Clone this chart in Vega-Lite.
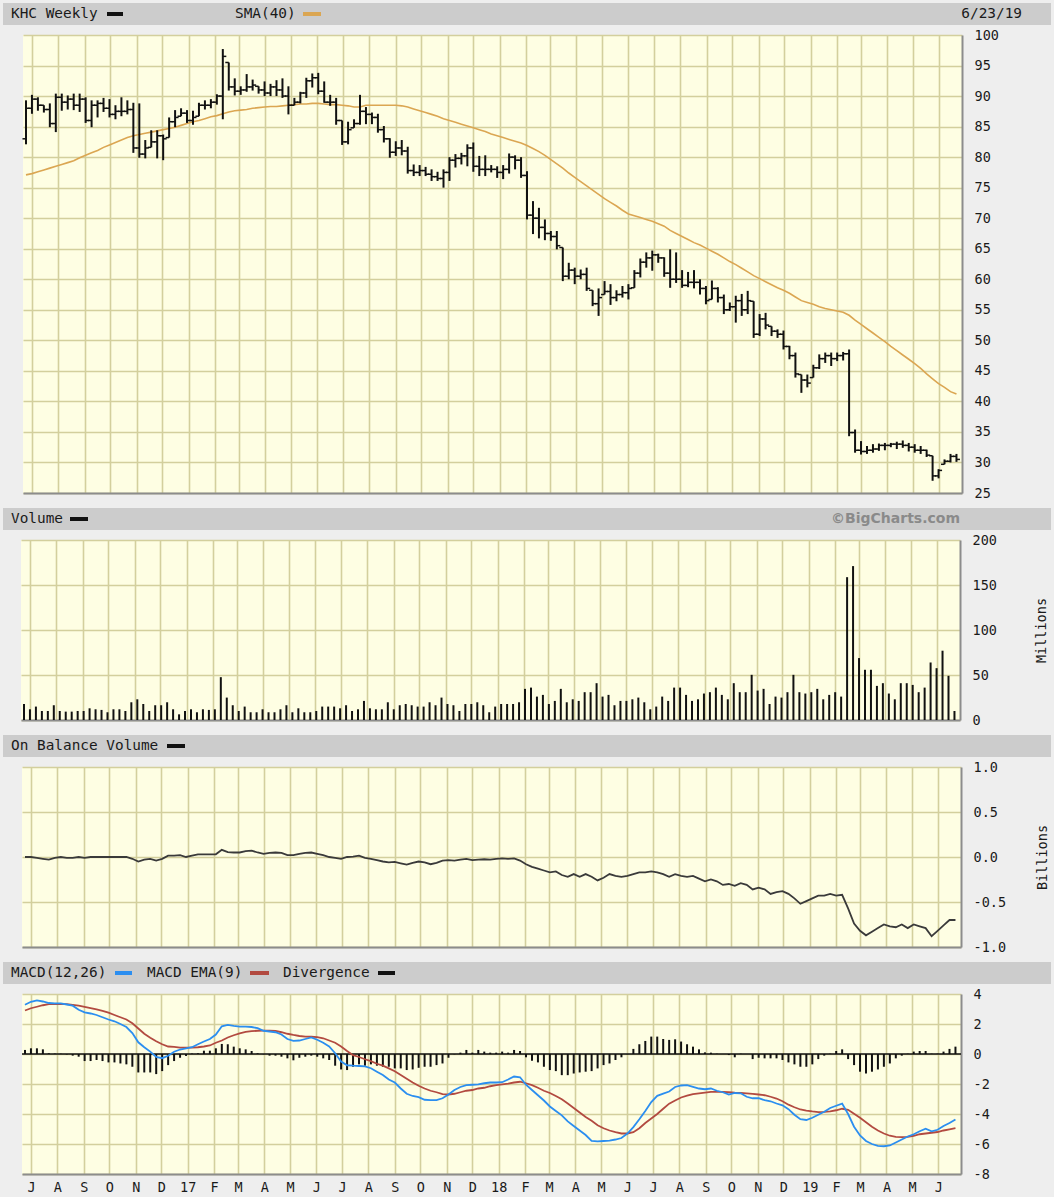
{
  "$schema": "https://vega.github.io/schema/vega-lite/v6.json",
  "background": "#eeeeee",
  "padding": {"left": 3, "top": 3, "right": 3, "bottom": 3},
  "config": {
    "view": {"stroke": null},
    "axis": {"labelFont": "DejaVu Sans Mono", "labelFontSize": 13.5, "labelColor": "#1a1a1a", "titleFont": "DejaVu Sans Mono", "titleFontSize": 13.5, "titleFontWeight": "normal", "titleColor": "#1a1a1a", "gridColor": "#d3cf9d", "gridWidth": 1.6, "gridOpacity": 1, "ticks": false, "domainColor": "#8c8c8c", "domainWidth": 2, "labelOverlap": false},
    "text": {"font": "DejaVu Sans Mono"}
  },
  "datasets": {
    "w": [
      {"date":"2016-06-24","open":83,"high":89.3,"low":82.1,"close":88,"sma":77.1,"volume":17.8,"obv":0,"macd":3.28,"signal":2.9,"hist":0.27},
      {"date":"2016-07-01","open":88,"high":90.2,"low":87.1,"close":89.5,"sma":77.3,"volume":11.9,"obv":0,"macd":3.48,"signal":3.05,"hist":0.38},
      {"date":"2016-07-08","open":89.5,"high":89.8,"low":87.6,"close":88.5,"sma":77.6,"volume":14.9,"obv":-0.01,"macd":3.58,"signal":3.15,"hist":0.38},
      {"date":"2016-07-15","open":88.5,"high":88.5,"low":87.3,"close":87.8,"sma":77.9,"volume":10,"obv":-0.02,"macd":3.5,"signal":3.25,"hist":0.31},
      {"date":"2016-07-22","open":87.8,"high":88.8,"low":84.9,"close":85.5,"sma":78.2,"volume":10,"obv":-0.03,"macd":3.4,"signal":3.33,"hist":0.05},
      {"date":"2016-07-29","open":85.5,"high":90.4,"low":84.1,"close":89.8,"sma":78.5,"volume":16.4,"obv":-0.01,"macd":3.37,"signal":3.33,"hist":0.03},
      {"date":"2016-08-05","open":89.8,"high":90.4,"low":87.6,"close":89,"sma":78.8,"volume":10,"obv":0,"macd":3.37,"signal":3.33,"hist":0.02},
      {"date":"2016-08-12","open":89,"high":90.1,"low":87.8,"close":89.5,"sma":79.1,"volume":9.3,"obv":-0.01,"macd":3.3,"signal":3.33,"hist":-0.03},
      {"date":"2016-08-19","open":89.5,"high":90.4,"low":87.7,"close":88.5,"sma":79.4,"volume":9.3,"obv":-0.01,"macd":3.22,"signal":3.28,"hist":-0.11},
      {"date":"2016-08-26","open":88.5,"high":90.4,"low":87.4,"close":89.5,"sma":79.9,"volume":10,"obv":0,"macd":2.95,"signal":3.22,"hist":-0.18},
      {"date":"2016-09-02","open":89.5,"high":89.8,"low":85.6,"close":86,"sma":80.3,"volume":10,"obv":-0.01,"macd":2.78,"signal":3.14,"hist":-0.47},
      {"date":"2016-09-09","open":86,"high":89.3,"low":84.9,"close":88.5,"sma":80.7,"volume":13,"obv":0,"macd":2.7,"signal":3.06,"hist":-0.47},
      {"date":"2016-09-16","open":88.5,"high":89.3,"low":86.5,"close":88.8,"sma":81.1,"volume":11.9,"obv":0,"macd":2.6,"signal":2.98,"hist":-0.4},
      {"date":"2016-09-23","open":88.8,"high":89.7,"low":87.4,"close":88,"sma":81.6,"volume":11.2,"obv":0,"macd":2.45,"signal":2.88,"hist":-0.47},
      {"date":"2016-09-30","open":88,"high":89.5,"low":86.5,"close":87,"sma":82,"volume":8.6,"obv":0,"macd":2.3,"signal":2.76,"hist":-0.56},
      {"date":"2016-10-07","open":87,"high":88.5,"low":86.2,"close":87.5,"sma":82.4,"volume":11.9,"obv":0,"macd":2.18,"signal":2.6,"hist":-0.56},
      {"date":"2016-10-14","open":87.5,"high":89.8,"low":86.7,"close":87.5,"sma":82.8,"volume":11.9,"obv":0,"macd":2,"signal":2.45,"hist":-0.63},
      {"date":"2016-10-21","open":87.5,"high":89.3,"low":87,"close":87.8,"sma":83.2,"volume":10,"obv":0,"macd":1.8,"signal":2.3,"hist":-0.69},
      {"date":"2016-10-28","open":87.8,"high":88.9,"low":80.7,"close":81.5,"sma":83.5,"volume":19.7,"obv":-0.02,"macd":1.4,"signal":2.05,"hist":-0.85},
      {"date":"2016-11-04","open":81.5,"high":88.8,"low":79.9,"close":80.5,"sma":83.7,"volume":23,"obv":-0.05,"macd":0.78,"signal":1.7,"hist":-1.23},
      {"date":"2016-11-11","open":80.5,"high":82.8,"low":79.8,"close":81.5,"sma":83.9,"volume":17.8,"obv":-0.03,"macd":0.45,"signal":1.35,"hist":-1.23},
      {"date":"2016-11-18","open":81.6,"high":84.4,"low":81.6,"close":82.5,"sma":84.1,"volume":10,"obv":-0.02,"macd":0.16,"signal":1.09,"hist":-1.23},
      {"date":"2016-11-25","open":82.5,"high":84.4,"low":79.8,"close":83.5,"sma":84.3,"volume":16.4,"obv":-0.04,"macd":-0.2,"signal":0.85,"hist":-1.34},
      {"date":"2016-12-02","open":83.5,"high":83.7,"low":79.5,"close":83,"sma":84.5,"volume":16.4,"obv":-0.02,"macd":-0.28,"signal":0.65,"hist":-1.14},
      {"date":"2016-12-09","open":83.2,"high":86.5,"low":83.2,"close":85.8,"sma":84.7,"volume":19.7,"obv":0.015,"macd":-0.12,"signal":0.5,"hist":-0.74},
      {"date":"2016-12-16","open":85.8,"high":87.7,"low":84.9,"close":86.5,"sma":84.9,"volume":11.9,"obv":0.015,"macd":0.15,"signal":0.47,"hist":-0.47},
      {"date":"2016-12-23","open":86.7,"high":88,"low":86.7,"close":87.2,"sma":85.2,"volume":6.3,"obv":0.02,"macd":0.3,"signal":0.43,"hist":-0.25},
      {"date":"2016-12-30","open":87.2,"high":87.7,"low":85.6,"close":86,"sma":85.5,"volume":10,"obv":0,"macd":0.37,"signal":0.42,"hist":-0.13},
      {"date":"2017-01-06","open":86,"high":87.6,"low":85.3,"close":86.5,"sma":85.8,"volume":11.9,"obv":0.015,"macd":0.45,"signal":0.42,"hist":0.03},
      {"date":"2017-01-13","open":86.7,"high":88.9,"low":86.7,"close":88.5,"sma":86,"volume":8.6,"obv":0.03,"macd":0.65,"signal":0.45,"hist":0.05},
      {"date":"2017-01-20","open":88.5,"high":89.3,"low":87.8,"close":88.5,"sma":86.3,"volume":11.9,"obv":0.03,"macd":0.83,"signal":0.5,"hist":0.22},
      {"date":"2017-01-27","open":88.5,"high":89.5,"low":88,"close":89,"sma":86.6,"volume":11.2,"obv":0.03,"macd":1,"signal":0.57,"hist":0.22},
      {"date":"2017-02-03","open":89,"high":90.3,"low":88.6,"close":90,"sma":86.8,"volume":11.9,"obv":0.03,"macd":1.3,"signal":0.75,"hist":0.38},
      {"date":"2017-02-10","open":90,"high":97.7,"low":86.2,"close":96.5,"sma":87.1,"volume":47.6,"obv":0.08,"macd":1.85,"signal":0.9,"hist":0.67},
      {"date":"2017-02-17","open":95.5,"high":95.5,"low":90.9,"close":91.5,"sma":87.4,"volume":24.9,"obv":0.055,"macd":1.94,"signal":1.1,"hist":0.65},
      {"date":"2017-02-24","open":91.5,"high":92.9,"low":90.1,"close":90.8,"sma":87.6,"volume":16.4,"obv":0.05,"macd":1.88,"signal":1.25,"hist":0.49},
      {"date":"2017-03-03","open":90.8,"high":91.6,"low":90.2,"close":91,"sma":87.7,"volume":10,"obv":0.05,"macd":1.83,"signal":1.38,"hist":0.38},
      {"date":"2017-03-10","open":91,"high":93.6,"low":90.7,"close":91.5,"sma":87.8,"volume":14.9,"obv":0.065,"macd":1.83,"signal":1.47,"hist":0.31},
      {"date":"2017-03-17","open":91.5,"high":92.7,"low":90.9,"close":91.8,"sma":88,"volume":8.6,"obv":0.07,"macd":1.8,"signal":1.52,"hist":0.2},
      {"date":"2017-03-24","open":91.6,"high":91.6,"low":90.4,"close":91,"sma":88.1,"volume":8.6,"obv":0.05,"macd":1.72,"signal":1.55,"hist":0.05},
      {"date":"2017-03-31","open":91,"high":92.4,"low":90,"close":90.5,"sma":88.2,"volume":11.9,"obv":0.035,"macd":1.55,"signal":1.56,"hist":-0.02},
      {"date":"2017-04-07","open":90.5,"high":92,"low":90,"close":91.5,"sma":88.3,"volume":8.6,"obv":0.045,"macd":1.5,"signal":1.56,"hist":-0.11},
      {"date":"2017-04-14","open":91.5,"high":92.6,"low":90,"close":91,"sma":88.3,"volume":8.6,"obv":0.05,"macd":1.45,"signal":1.54,"hist":-0.11},
      {"date":"2017-04-21","open":91,"high":92.9,"low":89.7,"close":90,"sma":88.4,"volume":11.9,"obv":0.045,"macd":1.3,"signal":1.45,"hist":-0.18},
      {"date":"2017-04-28","open":90,"high":91.6,"low":87,"close":88.5,"sma":88.5,"volume":16.4,"obv":0.02,"macd":1,"signal":1.35,"hist":-0.29},
      {"date":"2017-05-05","open":88.5,"high":89.7,"low":88.5,"close":89,"sma":88.6,"volume":8.6,"obv":0.02,"macd":0.88,"signal":1.27,"hist":-0.42},
      {"date":"2017-05-12","open":89,"high":90.7,"low":88.8,"close":90.5,"sma":88.7,"volume":13,"obv":0.035,"macd":0.9,"signal":1.2,"hist":-0.25},
      {"date":"2017-05-19","open":90.5,"high":93,"low":89.7,"close":92.5,"sma":88.7,"volume":8.6,"obv":0.045,"macd":1,"signal":1.16,"hist":-0.18},
      {"date":"2017-05-26","open":92.5,"high":93.7,"low":91.4,"close":93,"sma":88.8,"volume":8.6,"obv":0.05,"macd":1.1,"signal":1.15,"hist":-0.11},
      {"date":"2017-06-02","open":93,"high":93.8,"low":90.3,"close":90.8,"sma":88.8,"volume":10,"obv":0.035,"macd":0.95,"signal":1.13,"hist":-0.18},
      {"date":"2017-06-09","open":90.8,"high":92.4,"low":88.9,"close":89,"sma":88.7,"volume":14.9,"obv":0.02,"macd":0.75,"signal":1.05,"hist":-0.29},
      {"date":"2017-06-16","open":89,"high":90.2,"low":88.4,"close":89,"sma":88.6,"volume":14.9,"obv":0,"macd":0.5,"signal":0.9,"hist":-0.4},
      {"date":"2017-06-23","open":89,"high":89.7,"low":85.3,"close":86,"sma":88.6,"volume":14.9,"obv":-0.01,"macd":0.05,"signal":0.75,"hist":-0.78},
      {"date":"2017-06-30","open":86,"high":86,"low":82,"close":82.5,"sma":88.5,"volume":13,"obv":-0.02,"macd":-0.5,"signal":0.5,"hist":-1.03},
      {"date":"2017-07-07","open":82.5,"high":85.8,"low":82.1,"close":84.5,"sma":88.4,"volume":16.4,"obv":0,"macd":-0.75,"signal":0.2,"hist":-1.07},
      {"date":"2017-07-14","open":84.8,"high":86.2,"low":84.8,"close":85.5,"sma":88.2,"volume":10,"obv":0.005,"macd":-0.78,"signal":-0.08,"hist":-0.85},
      {"date":"2017-07-21","open":85.5,"high":90.2,"low":85.3,"close":87.5,"sma":88.2,"volume":11.9,"obv":0.015,"macd":-0.8,"signal":-0.2,"hist":-0.69},
      {"date":"2017-07-28","open":87.5,"high":88.2,"low":85.4,"close":87,"sma":88.5,"volume":21.2,"obv":-0.01,"macd":-0.82,"signal":-0.35,"hist":-0.78},
      {"date":"2017-08-04","open":87,"high":87.3,"low":85.4,"close":86.5,"sma":88.5,"volume":13,"obv":-0.02,"macd":-0.95,"signal":-0.48,"hist":-0.69},
      {"date":"2017-08-11","open":86.5,"high":87.1,"low":84,"close":84.5,"sma":88.5,"volume":11.9,"obv":-0.035,"macd":-1.18,"signal":-0.65,"hist":-0.78},
      {"date":"2017-08-18","open":84.5,"high":85.1,"low":82.4,"close":83,"sma":88.5,"volume":11.9,"obv":-0.05,"macd":-1.4,"signal":-0.78,"hist":-0.85},
      {"date":"2017-08-25","open":83,"high":83.1,"low":79.9,"close":80.8,"sma":88.5,"volume":19.7,"obv":-0.06,"macd":-1.7,"signal":-0.96,"hist":-0.85},
      {"date":"2017-09-01","open":80.8,"high":82.6,"low":80.2,"close":81.5,"sma":88.5,"volume":11.9,"obv":-0.055,"macd":-1.9,"signal":-1.15,"hist":-0.96},
      {"date":"2017-09-08","open":81.5,"high":82.8,"low":80.3,"close":81,"sma":88.4,"volume":16.4,"obv":-0.07,"macd":-2.3,"signal":-1.4,"hist":-0.96},
      {"date":"2017-09-15","open":81,"high":81.7,"low":77.3,"close":77.8,"sma":88.2,"volume":17.8,"obv":-0.085,"macd":-2.65,"signal":-1.65,"hist":-1.07},
      {"date":"2017-09-22","open":77.8,"high":78.8,"low":76.9,"close":77.5,"sma":87.9,"volume":16.4,"obv":-0.065,"macd":-2.8,"signal":-1.9,"hist":-1.03},
      {"date":"2017-09-29","open":77.5,"high":78.7,"low":76.9,"close":77.8,"sma":87.6,"volume":14.9,"obv":-0.05,"macd":-2.88,"signal":-2.12,"hist":-0.92},
      {"date":"2017-10-06","open":77.8,"high":78.4,"low":76.9,"close":77.2,"sma":87.3,"volume":14.9,"obv":-0.06,"macd":-3.05,"signal":-2.3,"hist":-0.85},
      {"date":"2017-10-13","open":77.2,"high":78,"low":76.1,"close":76.8,"sma":87,"volume":19.7,"obv":-0.08,"macd":-3.08,"signal":-2.45,"hist":-0.85},
      {"date":"2017-10-20","open":76.8,"high":77.6,"low":76.1,"close":76.5,"sma":86.7,"volume":16.4,"obv":-0.065,"macd":-3.08,"signal":-2.55,"hist":-0.74},
      {"date":"2017-10-27","open":76.5,"high":78,"low":75,"close":77.5,"sma":86.3,"volume":24.9,"obv":-0.04,"macd":-2.95,"signal":-2.68,"hist":-0.63},
      {"date":"2017-11-03","open":77.5,"high":80,"low":76.1,"close":79.5,"sma":86,"volume":17.8,"obv":-0.035,"macd":-2.7,"signal":-2.7,"hist":-0.25},
      {"date":"2017-11-10","open":79.5,"high":80.5,"low":78.3,"close":79.8,"sma":85.7,"volume":16.4,"obv":-0.04,"macd":-2.4,"signal":-2.65,"hist":-0.02},
      {"date":"2017-11-17","open":79.8,"high":80.7,"low":78.8,"close":80.2,"sma":85.4,"volume":10,"obv":-0.03,"macd":-2.2,"signal":-2.55,"hist":0.09},
      {"date":"2017-11-24","open":80.2,"high":82.1,"low":78.5,"close":81.5,"sma":85.1,"volume":17.8,"obv":-0.02,"macd":-2.08,"signal":-2.45,"hist":0.27},
      {"date":"2017-12-01","open":81.5,"high":82.4,"low":77.6,"close":78.5,"sma":84.8,"volume":17.8,"obv":-0.035,"macd":-2.05,"signal":-2.4,"hist":0.09},
      {"date":"2017-12-08","open":78.5,"high":80.2,"low":76.9,"close":78,"sma":84.5,"volume":19.7,"obv":-0.03,"macd":-2.03,"signal":-2.3,"hist":0.27},
      {"date":"2017-12-15","open":78,"high":80.3,"low":76.9,"close":78,"sma":84.2,"volume":16.4,"obv":-0.025,"macd":-1.95,"signal":-2.25,"hist":0.16},
      {"date":"2017-12-22","open":78,"high":78.7,"low":77.5,"close":78,"sma":83.8,"volume":8.6,"obv":-0.03,"macd":-1.9,"signal":-2.15,"hist":0.09},
      {"date":"2017-12-29","open":78,"high":78.5,"low":76.6,"close":77.5,"sma":83.5,"volume":14.9,"obv":-0.02,"macd":-1.9,"signal":-2.08,"hist":0.09},
      {"date":"2018-01-05","open":77.5,"high":78.7,"low":76.4,"close":78,"sma":83.2,"volume":17.8,"obv":-0.015,"macd":-1.88,"signal":-2.03,"hist":0.16},
      {"date":"2018-01-12","open":78,"high":80.6,"low":77.3,"close":80,"sma":82.9,"volume":17.8,"obv":-0.02,"macd":-1.7,"signal":-1.98,"hist":0.09},
      {"date":"2018-01-19","open":80,"high":80.3,"low":78,"close":79.5,"sma":82.6,"volume":17.8,"obv":-0.015,"macd":-1.5,"signal":-1.9,"hist":0.27},
      {"date":"2018-01-26","open":79.5,"high":80,"low":76.6,"close":77,"sma":82.3,"volume":19.7,"obv":-0.04,"macd":-1.55,"signal":-1.85,"hist":0.2},
      {"date":"2018-02-02","open":77,"high":77.7,"low":69.8,"close":70.5,"sma":81.9,"volume":34.6,"obv":-0.08,"macd":-2.05,"signal":-1.95,"hist":-0.22},
      {"date":"2018-02-09","open":70.5,"high":72.8,"low":67.4,"close":70,"sma":81.4,"volume":36,"obv":-0.11,"macd":-2.4,"signal":-2.08,"hist":-0.45},
      {"date":"2018-02-16","open":70,"high":71.7,"low":66.7,"close":68.5,"sma":80.9,"volume":26,"obv":-0.13,"macd":-2.75,"signal":-2.25,"hist":-0.56},
      {"date":"2018-02-23","open":68.5,"high":69.8,"low":66.4,"close":67.5,"sma":80.3,"volume":27.9,"obv":-0.15,"macd":-3.1,"signal":-2.45,"hist":-0.85},
      {"date":"2018-03-02","open":67.5,"high":67.9,"low":66.3,"close":67,"sma":79.6,"volume":17.8,"obv":-0.17,"macd":-3.5,"signal":-2.6,"hist":-1.07},
      {"date":"2018-03-09","open":67,"high":67.9,"low":64.9,"close":65.5,"sma":78.9,"volume":21.2,"obv":-0.16,"macd":-3.8,"signal":-2.8,"hist":-1.14},
      {"date":"2018-03-16","open":65.2,"high":65.2,"low":59.7,"close":60.5,"sma":78.2,"volume":34.6,"obv":-0.2,"macd":-4.09,"signal":-3.02,"hist":-1.41},
      {"date":"2018-03-23","open":60.5,"high":62.7,"low":60,"close":61.5,"sma":77.4,"volume":19.7,"obv":-0.22,"macd":-4.49,"signal":-3.3,"hist":-1.41},
      {"date":"2018-03-30","open":61.5,"high":61.9,"low":59.2,"close":60.5,"sma":76.7,"volume":23,"obv":-0.19,"macd":-4.8,"signal":-3.6,"hist":-1.3},
      {"date":"2018-04-06","open":60.5,"high":61.6,"low":60,"close":60.8,"sma":76,"volume":21.2,"obv":-0.22,"macd":-5.1,"signal":-3.9,"hist":-1.23},
      {"date":"2018-04-13","open":60.8,"high":61.9,"low":58.1,"close":58.5,"sma":75.3,"volume":30.9,"obv":-0.19,"macd":-5.4,"signal":-4.2,"hist":-1.18},
      {"date":"2018-04-20","open":58.2,"high":58.2,"low":55.6,"close":56,"sma":74.6,"volume":30.9,"obv":-0.22,"macd":-5.8,"signal":-4.45,"hist":-1.14},
      {"date":"2018-04-27","open":56,"high":58.5,"low":54,"close":57,"sma":73.9,"volume":40.9,"obv":-0.26,"macd":-5.83,"signal":-4.75,"hist":-0.96},
      {"date":"2018-05-04","open":57.5,"high":59.7,"low":57.5,"close":58,"sma":73.2,"volume":26,"obv":-0.23,"macd":-5.8,"signal":-4.95,"hist":-0.74},
      {"date":"2018-05-11","open":58,"high":59.2,"low":55.8,"close":57,"sma":72.6,"volume":27.9,"obv":-0.19,"macd":-5.77,"signal":-5.1,"hist":-0.63},
      {"date":"2018-05-18","open":57,"high":58.2,"low":56.4,"close":57.5,"sma":72,"volume":16.4,"obv":-0.21,"macd":-5.7,"signal":-5.21,"hist":-0.4},
      {"date":"2018-05-25","open":57.5,"high":58.9,"low":57,"close":57.8,"sma":71.3,"volume":21.2,"obv":-0.22,"macd":-5.6,"signal":-5.3,"hist":-0.22},
      {"date":"2018-06-01","open":57.8,"high":59.2,"low":56.7,"close":58.5,"sma":70.7,"volume":21.2,"obv":-0.21,"macd":-5.3,"signal":-5.3,"hist":-0.02},
      {"date":"2018-06-08","open":58.6,"high":61.5,"low":58.6,"close":61,"sma":70.4,"volume":23,"obv":-0.19,"macd":-4.87,"signal":-5.21,"hist":0.34},
      {"date":"2018-06-15","open":61,"high":63.4,"low":60.3,"close":62.8,"sma":70.1,"volume":24.9,"obv":-0.17,"macd":-4.35,"signal":-4.95,"hist":0.65},
      {"date":"2018-06-22","open":62.8,"high":64.4,"low":61.9,"close":63.5,"sma":69.8,"volume":19.7,"obv":-0.17,"macd":-3.8,"signal":-4.6,"hist":0.87},
      {"date":"2018-06-29","open":63.5,"high":64.7,"low":61.4,"close":64,"sma":69.5,"volume":11.9,"obv":-0.16,"macd":-3.2,"signal":-4.3,"hist":1.16},
      {"date":"2018-07-06","open":64,"high":64.2,"low":62.7,"close":63.5,"sma":69.1,"volume":14.9,"obv":-0.17,"macd":-2.79,"signal":-4,"hist":1.16},
      {"date":"2018-07-13","open":63.5,"high":63.6,"low":60.4,"close":61,"sma":68.7,"volume":26,"obv":-0.19,"macd":-2.64,"signal":-3.65,"hist":1},
      {"date":"2018-07-20","open":61,"high":64.9,"low":58.6,"close":60,"sma":68,"volume":21.2,"obv":-0.22,"macd":-2.5,"signal":-3.31,"hist":0.94},
      {"date":"2018-07-27","open":60,"high":64.4,"low":59.4,"close":60,"sma":67.5,"volume":36,"obv":-0.19,"macd":-2.2,"signal":-3.1,"hist":0.98},
      {"date":"2018-08-03","open":60,"high":61.5,"low":58.6,"close":59,"sma":67,"volume":36,"obv":-0.21,"macd":-2.1,"signal":-2.9,"hist":0.83},
      {"date":"2018-08-10","open":59,"high":61.2,"low":58.7,"close":59.5,"sma":66.5,"volume":27.9,"obv":-0.22,"macd":-2.08,"signal":-2.78,"hist":0.65},
      {"date":"2018-08-17","open":59.5,"high":61.5,"low":58.5,"close":59.5,"sma":66,"volume":21.2,"obv":-0.21,"macd":-2.19,"signal":-2.68,"hist":0.49},
      {"date":"2018-08-24","open":59.5,"high":60,"low":57.5,"close":58.5,"sma":65.6,"volume":23,"obv":-0.24,"macd":-2.3,"signal":-2.62,"hist":0.31},
      {"date":"2018-08-31","open":58.5,"high":58.9,"low":55.9,"close":56.5,"sma":65.1,"volume":29.4,"obv":-0.27,"macd":-2.35,"signal":-2.57,"hist":0.11},
      {"date":"2018-09-07","open":56.7,"high":59.8,"low":56.7,"close":58.5,"sma":64.6,"volume":30.9,"obv":-0.25,"macd":-2.3,"signal":-2.53,"hist":0.09},
      {"date":"2018-09-14","open":58.5,"high":58.7,"low":56.2,"close":57,"sma":64.1,"volume":36,"obv":-0.27,"macd":-2.45,"signal":-2.52,"hist":0.02},
      {"date":"2018-09-21","open":57,"high":57.5,"low":54.3,"close":55,"sma":63.5,"volume":27.9,"obv":-0.31,"macd":-2.55,"signal":-2.53,"hist":0},
      {"date":"2018-09-28","open":55,"high":56.2,"low":54.8,"close":55.5,"sma":62.9,"volume":23,"obv":-0.3,"macd":-2.7,"signal":-2.55,"hist":-0.07},
      {"date":"2018-10-05","open":55.5,"high":57.3,"low":52.9,"close":56.5,"sma":62.4,"volume":40.9,"obv":-0.32,"macd":-2.6,"signal":-2.58,"hist":-0.22},
      {"date":"2018-10-12","open":56.5,"high":57.6,"low":54,"close":55,"sma":61.8,"volume":30.9,"obv":-0.29,"macd":-2.62,"signal":-2.6,"hist":0.02},
      {"date":"2018-10-19","open":55,"high":58.1,"low":54.3,"close":56.5,"sma":61.2,"volume":30.9,"obv":-0.31,"macd":-2.85,"signal":-2.63,"hist":0},
      {"date":"2018-10-26","open":56.4,"high":56.4,"low":50.4,"close":51,"sma":60.6,"volume":50.2,"obv":-0.36,"macd":-2.95,"signal":-2.66,"hist":-0.34},
      {"date":"2018-11-02","open":51,"high":54.3,"low":50.7,"close":53.5,"sma":60.1,"volume":32.7,"obv":-0.34,"macd":-2.95,"signal":-2.7,"hist":-0.25},
      {"date":"2018-11-09","open":53.5,"high":54.5,"low":51.8,"close":52.5,"sma":59.6,"volume":34.6,"obv":-0.36,"macd":-3.08,"signal":-2.75,"hist":-0.29},
      {"date":"2018-11-16","open":52.3,"high":52.3,"low":50.7,"close":51.5,"sma":59.1,"volume":17.8,"obv":-0.41,"macd":-3.15,"signal":-2.85,"hist":-0.29},
      {"date":"2018-11-23","open":51.5,"high":51.8,"low":50.4,"close":51,"sma":58.6,"volume":26,"obv":-0.39,"macd":-3.3,"signal":-2.97,"hist":-0.29},
      {"date":"2018-11-30","open":51,"high":51.6,"low":48.5,"close":49,"sma":58.2,"volume":24.9,"obv":-0.38,"macd":-3.42,"signal":-3.15,"hist":-0.4},
      {"date":"2018-12-07","open":49,"high":49.1,"low":46.9,"close":47.5,"sma":57.7,"volume":30.9,"obv":-0.41,"macd":-3.68,"signal":-3.38,"hist":-0.56},
      {"date":"2018-12-14","open":47.5,"high":48,"low":43.9,"close":44.5,"sma":57.1,"volume":50.2,"obv":-0.46,"macd":-4.05,"signal":-3.55,"hist":-0.69},
      {"date":"2018-12-21","open":44.4,"high":44.4,"low":41.4,"close":43.5,"sma":56.5,"volume":30.9,"obv":-0.52,"macd":-4.35,"signal":-3.7,"hist":-0.85},
      {"date":"2018-12-28","open":43.5,"high":44.4,"low":42.3,"close":43,"sma":56.2,"volume":29.4,"obv":-0.49,"macd":-4.4,"signal":-3.77,"hist":-0.85},
      {"date":"2019-01-04","open":43.9,"high":46,"low":43.9,"close":45.5,"sma":55.9,"volume":30.9,"obv":-0.46,"macd":-4.25,"signal":-3.83,"hist":-0.69},
      {"date":"2019-01-11","open":45.5,"high":47.7,"low":45.3,"close":47,"sma":55.5,"volume":34.6,"obv":-0.43,"macd":-4.05,"signal":-3.87,"hist":-0.34},
      {"date":"2019-01-18","open":47,"high":48,"low":46.3,"close":47.5,"sma":55.2,"volume":23,"obv":-0.43,"macd":-3.85,"signal":-3.86,"hist":-0.11},
      {"date":"2019-01-25","open":47.5,"high":48,"low":45.8,"close":47,"sma":55,"volume":27.9,"obv":-0.41,"macd":-3.6,"signal":-3.82,"hist":0.02},
      {"date":"2019-02-01","open":47,"high":48,"low":46.6,"close":47.5,"sma":54.8,"volume":30.9,"obv":-0.43,"macd":-3.45,"signal":-3.75,"hist":0.2},
      {"date":"2019-02-08","open":47.5,"high":48.1,"low":46.7,"close":47.8,"sma":54.6,"volume":26,"obv":-0.42,"macd":-3.31,"signal":-3.65,"hist":0.31},
      {"date":"2019-02-15","open":47.8,"high":48.5,"low":34.3,"close":34.9,"sma":54.1,"volume":158.7,"obv":-0.57,"macd":-4,"signal":-3.72,"hist":-0.34},
      {"date":"2019-02-22","open":34.9,"high":35.4,"low":31.6,"close":32,"sma":53.3,"volume":171,"obv":-0.74,"macd":-4.85,"signal":-3.98,"hist":-0.74},
      {"date":"2019-03-01","open":32,"high":33.5,"low":31.3,"close":31.8,"sma":52.6,"volume":68.8,"obv":-0.82,"macd":-5.43,"signal":-4.25,"hist":-1.18},
      {"date":"2019-03-08","open":31.8,"high":32.7,"low":31.4,"close":32,"sma":51.9,"volume":55.8,"obv":-0.87,"macd":-5.8,"signal":-4.55,"hist":-1.3},
      {"date":"2019-03-15","open":32,"high":33,"low":31.6,"close":32.2,"sma":51.2,"volume":55.8,"obv":-0.83,"macd":-6,"signal":-4.85,"hist":-1.18},
      {"date":"2019-03-22","open":32.2,"high":33.1,"low":31.9,"close":32.8,"sma":50.5,"volume":37.9,"obv":-0.79,"macd":-6.12,"signal":-5.1,"hist":-1.03},
      {"date":"2019-03-29","open":32.8,"high":33.2,"low":32,"close":32.8,"sma":49.8,"volume":40.9,"obv":-0.75,"macd":-6.15,"signal":-5.3,"hist":-0.85},
      {"date":"2019-04-05","open":32.8,"high":33.2,"low":32.5,"close":33,"sma":49,"volume":29.4,"obv":-0.77,"macd":-6.1,"signal":-5.45,"hist":-0.63},
      {"date":"2019-04-12","open":33,"high":33.4,"low":32.2,"close":33,"sma":48.3,"volume":23,"obv":-0.78,"macd":-5.9,"signal":-5.52,"hist":-0.29},
      {"date":"2019-04-19","open":33,"high":33.6,"low":32.4,"close":32.8,"sma":47.6,"volume":40.9,"obv":-0.75,"macd":-5.7,"signal":-5.54,"hist":-0.11},
      {"date":"2019-04-26","open":32.8,"high":33.2,"low":31.8,"close":32.5,"sma":46.9,"volume":40.9,"obv":-0.79,"macd":-5.5,"signal":-5.52,"hist":0.02},
      {"date":"2019-05-03","open":32.5,"high":33,"low":31.6,"close":32,"sma":46.2,"volume":39,"obv":-0.75,"macd":-5.35,"signal":-5.45,"hist":0.16},
      {"date":"2019-05-10","open":32,"high":32.7,"low":31.4,"close":32,"sma":45.4,"volume":30.9,"obv":-0.77,"macd":-5.15,"signal":-5.35,"hist":0.2},
      {"date":"2019-05-17","open":32,"high":32.1,"low":30.9,"close":31.2,"sma":44.5,"volume":36,"obv":-0.79,"macd":-4.98,"signal":-5.3,"hist":0.2},
      {"date":"2019-05-24","open":31.1,"high":31.1,"low":27,"close":27.8,"sma":43.7,"volume":63.9,"obv":-0.88,"macd":-5.16,"signal":-5.25,"hist":0.02},
      {"date":"2019-05-31","open":27.8,"high":28.9,"low":27.4,"close":28.7,"sma":42.9,"volume":57.6,"obv":-0.82,"macd":-5.05,"signal":-5.2,"hist":0.02},
      {"date":"2019-06-07","open":29.7,"high":30.5,"low":29.7,"close":30.2,"sma":42.3,"volume":77,"obv":-0.76,"macd":-4.8,"signal":-5.1,"hist":0.16},
      {"date":"2019-06-14","open":30.2,"high":31.4,"low":30,"close":31,"sma":41.6,"volume":49.1,"obv":-0.7,"macd":-4.6,"signal":-5.02,"hist":0.34},
      {"date":"2019-06-21","open":31,"high":31.4,"low":30.1,"close":30.5,"sma":41.2,"volume":10,"obv":-0.7,"macd":-4.36,"signal":-4.94,"hist":0.49}
    ]
  },
  "spacing": 8,
  "vconcat": [
    {
      "spacing": 3,
      "vconcat": [
        {
          "width": 1048, "height": 22,
          "view": {"fill": "#cccccc", "stroke": null},
          "data": {"values": [{}]},
          "layer": [
            {"mark": {"type": "text", "text": "KHC Weekly", "align": "left", "baseline": "middle", "fontSize": 14.4, "color": "#1a1a1a"},
             "encoding": {"x": {"datum": 8, "type": "quantitative", "scale": {"domain": [0, 1048], "nice": false, "zero": false}, "axis": null}, "y": {"datum": 0, "type": "quantitative", "scale": {"domain": [-1, 1], "nice": false}, "axis": null}}},
            {"mark": {"type": "rule", "strokeWidth": 4, "color": "#111111"}, "encoding": {"x": {"datum": 104, "type": "quantitative"}, "x2": {"datum": 120}, "y": {"datum": 0, "type": "quantitative"}}},
            {"mark": {"type": "text", "text": "SMA(40)", "align": "left", "baseline": "middle", "fontSize": 14.4, "color": "#1a1a1a"}, "encoding": {"x": {"datum": 232, "type": "quantitative"}, "y": {"datum": 0, "type": "quantitative"}}},
            {"mark": {"type": "rule", "strokeWidth": 4, "color": "#dba652"}, "encoding": {"x": {"datum": 300, "type": "quantitative"}, "x2": {"datum": 318}, "y": {"datum": 0, "type": "quantitative"}}},
            {"mark": {"type": "text", "text": "6/23/19", "align": "right", "baseline": "middle", "fontSize": 14.4, "color": "#1a1a1a"}, "encoding": {"x": {"datum": 1019, "type": "quantitative"}, "y": {"datum": 0, "type": "quantitative"}}}
          ]
        },
        {
          "spacing": 10,
          "hconcat": [
            {"width": 8, "height": 2, "data": {"values": []}, "mark": {"type": "point", "opacity": 0}, "view": {"stroke": null}},
            {
              "width": 939, "height": 458,
              "view": {"fill": "#fefee3", "stroke": null},
              "data": {"name": "w"},
              "encoding": {"x": {"field": "date", "type": "temporal", "scale": {"domain": ["2016-06-20T12:00:00", "2019-06-27T12:00:00"]}, "axis": {"title": null, "labels": false, "ticks": false, "grid": true, "domain": true, "tickCount": {"interval": "month", "step": 1}}}},
              "layer": [
                {"mark": {"type": "line", "color": "#dba652", "strokeWidth": 1.6},
                 "encoding": {"y": {"field": "sma", "type": "quantitative", "title": null, "scale": {"domain": [25, 100], "nice": false, "zero": false}, "axis": {"orient": "right", "values": [25, 30, 35, 40, 45, 50, 55, 60, 65, 70, 75, 80, 85, 90, 95, 100], "tickCount": 16, "grid": true, "labelPadding": 12, "labelOverlap": false}}}},
                {"mark": {"type": "rule", "color": "#111111", "strokeWidth": 2},
                 "encoding": {"y": {"field": "low", "type": "quantitative", "title": null, "scale": {"domain": [25, 100], "nice": false, "zero": false}}, "y2": {"field": "high"}}},
                {"mark": {"type": "rule", "color": "#111111", "strokeWidth": 1.5, "xOffset": -3.5},
                 "encoding": {"x2": {"field": "date"}, "y": {"field": "open", "type": "quantitative", "title": null, "scale": {"domain": [25, 100], "nice": false, "zero": false}}}},
                {"mark": {"type": "rule", "color": "#111111", "strokeWidth": 1.5, "x2Offset": 3.5},
                 "encoding": {"x2": {"field": "date"}, "y": {"field": "close", "type": "quantitative", "title": null, "scale": {"domain": [25, 100], "nice": false, "zero": false}}}}
              ]
            }
          ]
        }
      ]
    },
    {
      "spacing": 3,
      "vconcat": [
        {
          "width": 1048, "height": 22,
          "view": {"fill": "#cccccc", "stroke": null},
          "data": {"values": [{}]},
          "layer": [
            {"mark": {"type": "text", "text": "Volume", "align": "left", "baseline": "middle", "fontSize": 14.4, "color": "#1a1a1a"},
             "encoding": {"x": {"datum": 8, "type": "quantitative", "scale": {"domain": [0, 1048], "nice": false, "zero": false}, "axis": null}, "y": {"datum": 0, "type": "quantitative", "scale": {"domain": [-1, 1], "nice": false}, "axis": null}}},
            {"mark": {"type": "rule", "strokeWidth": 4, "color": "#111111"}, "encoding": {"x": {"datum": 67, "type": "quantitative"}, "x2": {"datum": 85}, "y": {"datum": 0, "type": "quantitative"}}},
            {"mark": {"type": "text", "text": "©BigCharts.com", "align": "right", "baseline": "middle", "fontSize": 14, "font": "DejaVu Sans", "fontWeight": "bold", "color": "#8a8a8a"}, "encoding": {"x": {"datum": 957, "type": "quantitative"}, "y": {"datum": 0, "type": "quantitative"}}}
          ]
        },
        {
          "spacing": 10,
          "hconcat": [
            {"width": 8, "height": 2, "data": {"values": []}, "mark": {"type": "point", "opacity": 0}, "view": {"stroke": null}},
            {
              "width": 939, "height": 180,
              "view": {"fill": "#fefee3", "stroke": null},
              "data": {"name": "w"},
              "mark": {"type": "rule", "color": "#111111", "strokeWidth": 2},
              "encoding": {
                "x": {"field": "date", "type": "temporal", "scale": {"domain": ["2016-06-20T12:00:00", "2019-06-27T12:00:00"]}, "axis": {"title": null, "labels": false, "ticks": false, "grid": true, "domain": true, "tickCount": {"interval": "month", "step": 1}}},
                "y": {"field": "volume", "type": "quantitative", "title": "Millions", "scale": {"domain": [0, 200], "nice": false}, "axis": {"orient": "right", "values": [0, 50, 100, 150, 200], "tickCount": 5, "grid": true, "labelPadding": 12, "labelOverlap": false, "titlePadding": 38, "titleAngle": 270, "titleBaseline": "top"}},
                "y2": {"datum": 0}
              }
            }
          ]
        }
      ]
    },
    {
      "spacing": 3,
      "vconcat": [
        {
          "width": 1048, "height": 22,
          "view": {"fill": "#cccccc", "stroke": null},
          "data": {"values": [{}]},
          "layer": [
            {"mark": {"type": "text", "text": "On Balance Volume", "align": "left", "baseline": "middle", "fontSize": 14.4, "color": "#1a1a1a"},
             "encoding": {"x": {"datum": 8, "type": "quantitative", "scale": {"domain": [0, 1048], "nice": false, "zero": false}, "axis": null}, "y": {"datum": 0, "type": "quantitative", "scale": {"domain": [-1, 1], "nice": false}, "axis": null}}},
            {"mark": {"type": "rule", "strokeWidth": 4, "color": "#111111"}, "encoding": {"x": {"datum": 164, "type": "quantitative"}, "x2": {"datum": 182}, "y": {"datum": 0, "type": "quantitative"}}}
          ]
        },
        {
          "spacing": 10,
          "hconcat": [
            {"width": 8, "height": 2, "data": {"values": []}, "mark": {"type": "point", "opacity": 0}, "view": {"stroke": null}},
            {
              "width": 939, "height": 180,
              "view": {"fill": "#fefee3", "stroke": null},
              "data": {"name": "w"},
              "mark": {"type": "line", "color": "#3a3a3a", "strokeWidth": 1.8},
              "encoding": {
                "x": {"field": "date", "type": "temporal", "scale": {"domain": ["2016-06-20T12:00:00", "2019-06-27T12:00:00"]}, "axis": {"title": null, "labels": false, "ticks": false, "grid": true, "domain": true, "tickCount": {"interval": "month", "step": 1}}},
                "y": {"field": "obv", "type": "quantitative", "title": "Billions", "scale": {"domain": [-1, 1], "nice": false, "zero": false}, "axis": {"orient": "right", "values": [-1, -0.5, 0, 0.5, 1], "tickCount": 5, "grid": true, "labelPadding": 12, "labelOverlap": false, "labelExpr": "replace(format(datum.value, '.1f'), '\u2212', '-')", "titlePadding": 30, "titleAngle": 270, "titleBaseline": "top"}}
              }
            }
          ]
        }
      ]
    },
    {
      "spacing": 3,
      "vconcat": [
        {
          "width": 1048, "height": 22,
          "view": {"fill": "#cccccc", "stroke": null},
          "data": {"values": [{}]},
          "layer": [
            {"mark": {"type": "text", "text": "MACD(12,26)", "align": "left", "baseline": "middle", "fontSize": 14.4, "color": "#1a1a1a"},
             "encoding": {"x": {"datum": 8, "type": "quantitative", "scale": {"domain": [0, 1048], "nice": false, "zero": false}, "axis": null}, "y": {"datum": 0, "type": "quantitative", "scale": {"domain": [-1, 1], "nice": false}, "axis": null}}},
            {"mark": {"type": "rule", "strokeWidth": 4, "color": "#2b8ef0"}, "encoding": {"x": {"datum": 112, "type": "quantitative"}, "x2": {"datum": 129}, "y": {"datum": 0, "type": "quantitative"}}},
            {"mark": {"type": "text", "text": "MACD EMA(9)", "align": "left", "baseline": "middle", "fontSize": 14.4, "color": "#1a1a1a"}, "encoding": {"x": {"datum": 144, "type": "quantitative"}, "y": {"datum": 0, "type": "quantitative"}}},
            {"mark": {"type": "rule", "strokeWidth": 4, "color": "#b24a40"}, "encoding": {"x": {"datum": 247, "type": "quantitative"}, "x2": {"datum": 266}, "y": {"datum": 0, "type": "quantitative"}}},
            {"mark": {"type": "text", "text": "Divergence", "align": "left", "baseline": "middle", "fontSize": 14.4, "color": "#1a1a1a"}, "encoding": {"x": {"datum": 280, "type": "quantitative"}, "y": {"datum": 0, "type": "quantitative"}}},
            {"mark": {"type": "rule", "strokeWidth": 4, "color": "#111111"}, "encoding": {"x": {"datum": 375, "type": "quantitative"}, "x2": {"datum": 392}, "y": {"datum": 0, "type": "quantitative"}}}
          ]
        },
        {
          "spacing": 10,
          "hconcat": [
            {"width": 8, "height": 2, "data": {"values": []}, "mark": {"type": "point", "opacity": 0}, "view": {"stroke": null}},
            {
              "width": 939, "height": 180,
              "view": {"fill": "#fefee3", "stroke": null},
              "data": {"name": "w"},
              "layer": [
                {"mark": {"type": "rule", "color": "#111111", "strokeWidth": 2},
                 "encoding": {
                   "x": {"field": "date", "type": "temporal", "scale": {"domain": ["2016-06-20T12:00:00", "2019-06-27T12:00:00"]}, "axis": {"title": null, "labels": true, "ticks": false, "grid": true, "domain": true, "tickCount": {"interval": "month", "step": 1}, "labelPadding": 6, "labelOverlap": false, "labelFlush": false, "labelAlign": "center", "labelExpr": "month(datum.value) == 0 ? timeFormat(datum.value, '%y') : slice(timeFormat(datum.value, '%b'), 0, 1)"}},
                   "y": {"field": "hist", "type": "quantitative", "title": null, "scale": {"domain": [-8, 4], "nice": false, "zero": false}, "axis": {"orient": "right", "values": [-8, -6, -4, -2, 0, 2, 4], "tickCount": 7, "grid": true, "labelPadding": 12, "labelOverlap": false, "labelExpr": "replace(format(datum.value, 'd'), '\u2212', '-')"}},
                   "y2": {"datum": 0}
                 }},
                {"data": {"values": [{}]},
                 "mark": {"type": "rule", "color": "#111111", "strokeWidth": 1.5},
                 "encoding": {"y": {"datum": 0, "type": "quantitative", "scale": {"domain": [-8, 4], "nice": false, "zero": false}}}},
                {"mark": {"type": "line", "color": "#b24a40", "strokeWidth": 1.8},
                 "encoding": {"x": {"field": "date", "type": "temporal"}, "y": {"field": "signal", "type": "quantitative", "title": null, "scale": {"domain": [-8, 4], "nice": false, "zero": false}}}},
                {"mark": {"type": "line", "color": "#2b8ef0", "strokeWidth": 1.8},
                 "encoding": {"x": {"field": "date", "type": "temporal"}, "y": {"field": "macd", "type": "quantitative", "title": null, "scale": {"domain": [-8, 4], "nice": false, "zero": false}}}}
              ]
            }
          ]
        }
      ]
    }
  ]
}
